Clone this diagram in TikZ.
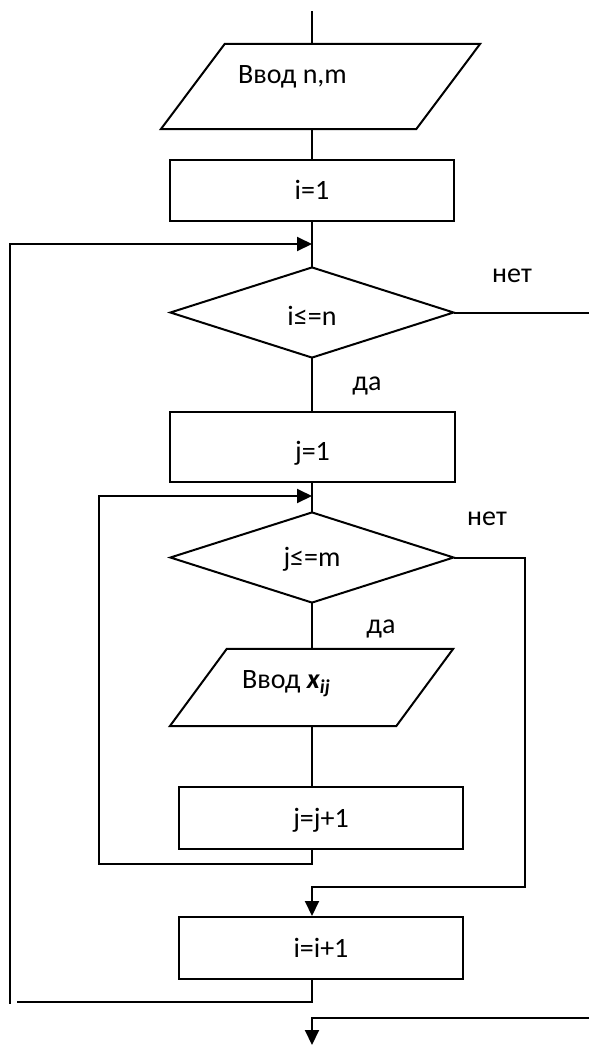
\documentclass[tikz,border=0pt]{standalone}
\usepackage{fontspec}
\setmainfont{Carlito}
\usetikzlibrary{arrows.meta,shapes.geometric,calc}
\begin{document}
\begin{tikzpicture}[x=1pt,y=-1pt,
  every node/.style={font=\fontsize{28}{33}\selectfont, inner sep=0pt},
  line/.style={line width=2pt, line cap=rect},
  arr/.style={line, -{Triangle[length=15pt,width=14pt]}},
  box/.style={draw, line width=2pt, rectangle, minimum width=284pt,
              minimum height=62pt, text height=18pt, text depth=0pt},
  dec/.style={draw, line width=2pt, diamond, aspect=3.1,
              minimum width=284pt, minimum height=91pt,
              text height=18pt, text depth=0pt},
  frame/.style={rectangle, minimum width=284pt, minimum height=77pt},
  lbl/.style={anchor=base}]
\useasboundingbox (0,0) rectangle (589,1045);

% --- blocks ---------------------------------------------------------
\node[frame, minimum width=319pt, minimum height=85pt] (p1) at (320.5,86.5) {};
\draw[line, line join=miter]
  ($(p1.north west)+(64,0)$) -- (p1.north east)
  -- ($(p1.south east)-(64,0)$) -- (p1.south west) -- cycle;
\node[anchor=base west] (p1t) at (238,83) {Ввод n,m};

\node[box, minimum height=61pt] (i1) at (312,190.5) {i=1};
\node[dec, text height=26pt] (d1) at (312,312.5) {i≤=n};
\node[box, minimum width=285pt, minimum height=70pt, text height=26pt] (j1) at (312.5,447) {j=1};
\node[dec] (d2) at (312,557.5) {j≤=m};

\node[frame, minimum width=283pt, minimum height=77pt] (p2) at (311.5,687.5) {};
\draw[line, line join=miter]
  ($(p2.north west)+(57,0)$) -- (p2.north east)
  -- ($(p2.south east)-(57,0)$) -- (p2.south west) -- cycle;
\node[anchor=base west] (p2t) at (242,688)
  {Ввод \textbf{\textit{x}}\textsubscript{\textbf{\textit{ij}}}};

\node[box] (jj) at (321,818) {j=j+1};
\node[box] (ii) at (321,948) {i=i+1};

% --- branch labels --------------------------------------------------
\node[lbl] (no1) at (512,282) {нет};
\node[lbl] (yes1) at (367,390) {да};
\node[lbl] (no2) at (487,525) {нет};
\node[lbl] (yes2) at (381,633) {да};

% --- auxiliary points -----------------------------------------------
\coordinate (top) at (312,12);
\coordinate (m1) at (312,244);
\coordinate (m2) at (312,496);
\coordinate (exit1) at (589,312.5);
\coordinate (lj) at (99,864);
\coordinate (rj) at (525,887);
\coordinate (lo) at (18,1002);
\coordinate (lv) at (9.5,1003);
\coordinate (exit2) at (589,1018);
\coordinate (bottom) at (312,1045);

% --- connectors -----------------------------------------------------
\draw[line] (top) -- (top |- p1.north);
\draw[line] (i1.north |- p1.south) -- (i1.north);
\draw[line] (i1.south) -- (d1.north);
\draw[line] (d1.east) -- (exit1);
\draw[line] (d1.south) -- (d1.south |- j1.north);
\draw[line] (d1.south |- j1.south) -- (d2.north);
\draw[line] (d2.south) -- (d2.south |- p2.north);
\draw[line] (d2.south |- p2.south) -- (d2.south |- jj.north);

% inner loop back to j<=m
\draw[arr] (m2 |- jj.south) |- (lj) |- (m2);
% inner loop exit
\draw[arr] (d2.east) -| (rj) -| (m2 |- ii.north);
% outer loop back to i<=n
\draw[line] (m2 |- ii.south) |- (lo);
\draw[arr] (lv) |- (m1);
% outer loop exit
\draw[arr] (exit2) -| (bottom);
\end{tikzpicture}
\end{document}
